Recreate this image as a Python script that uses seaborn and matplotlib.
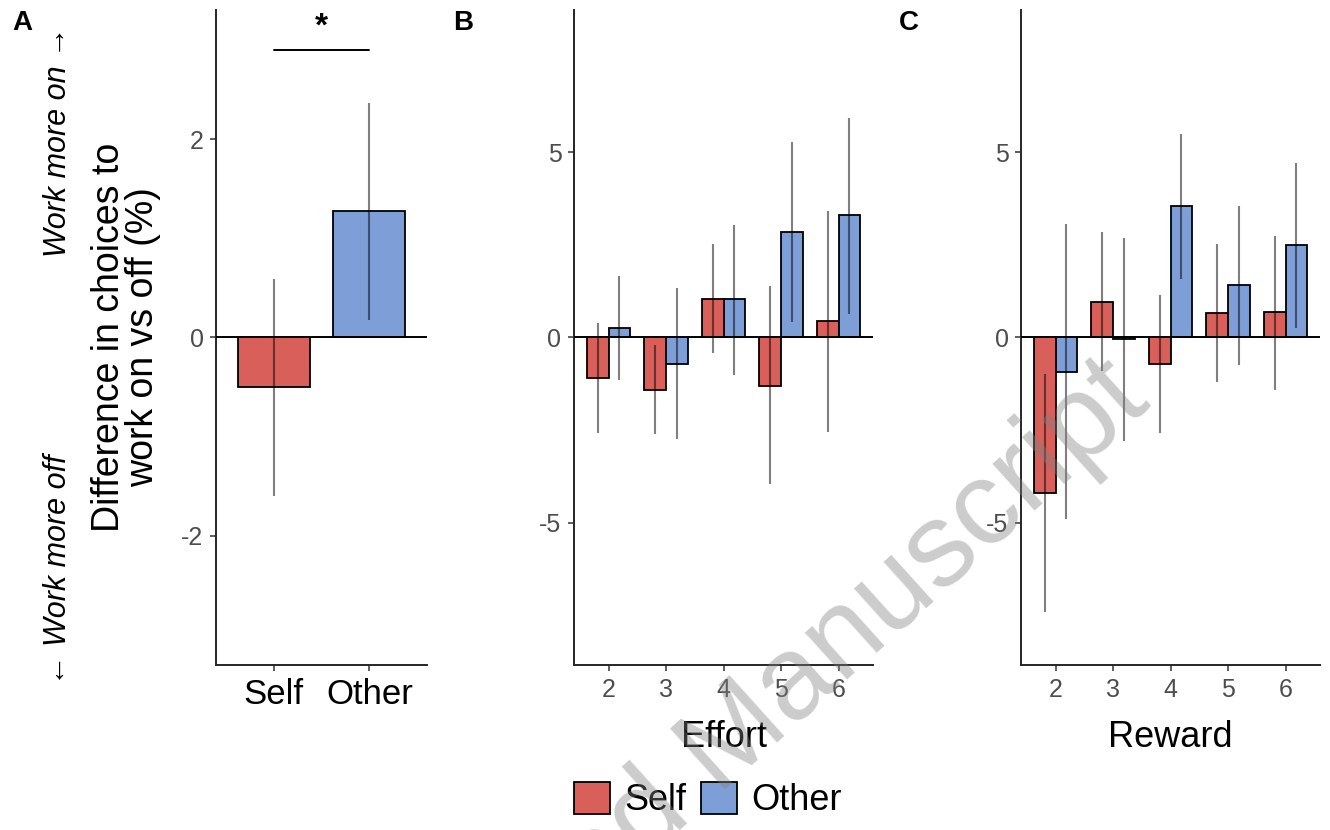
import numpy as np
import pandas as pd
import matplotlib
matplotlib.use("Agg")
import matplotlib.pyplot as plt
from matplotlib.patches import Patch
import seaborn as sns

# -------------------------------
# Data
# -------------------------------
agents = ["Self", "Other"]
agent_colors = {"Self": "#D95F5A", "Other": "#7D9ED7"}

# Panel A: overall difference
overall_mean = [-0.50, 1.27]
overall_lo = [-1.60, 0.18]
overall_hi = [0.59, 2.36]

# Panel B: by effort level
effort_levels = [2, 3, 4, 5, 6]
effort_self = [-1.09, -1.41, 1.05, -1.30, 0.44]
effort_self_lo = [-2.59, -2.62, -0.43, -3.95, -2.55]
effort_self_hi = [0.40, -0.19, 2.52, 1.39, 3.41]
effort_other = [0.25, -0.71, 1.03, 2.84, 3.30]
effort_other_lo = [-1.16, -2.73, -1.02, 0.41, 0.63]
effort_other_hi = [1.66, 1.33, 3.04, 5.29, 5.93]

# Panel C: by reward level
reward_levels = [2, 3, 4, 5, 6]
reward_self = [-4.21, 0.97, -0.71, 0.66, 0.68]
reward_self_lo = [-7.41, -0.91, -2.57, -1.20, -1.41]
reward_self_hi = [-0.98, 2.84, 1.15, 2.52, 2.75]
reward_other = [-0.92, -0.05, 3.55, 1.41, 2.49]
reward_other_lo = [-4.90, -2.81, 1.58, -0.73, 0.26]
reward_other_hi = [3.08, 2.68, 5.51, 3.54, 4.71]

# -------------------------------
# Build long tables
# -------------------------------
df_a = pd.DataFrame({"Agent": agents, "value": overall_mean,
                     "lo": overall_lo, "hi": overall_hi})


def long_table(levels, s, s_lo, s_hi, o, o_lo, o_hi, name):
    d_self = pd.DataFrame({name: levels, "Agent": "Self", "value": s, "lo": s_lo, "hi": s_hi})
    d_other = pd.DataFrame({name: levels, "Agent": "Other", "value": o, "lo": o_lo, "hi": o_hi})
    return pd.concat([d_self, d_other], ignore_index=True)


df_b = long_table(effort_levels, effort_self, effort_self_lo, effort_self_hi,
                  effort_other, effort_other_lo, effort_other_hi, "Effort")
df_c = long_table(reward_levels, reward_self, reward_self_lo, reward_self_hi,
                  reward_other, reward_other_lo, reward_other_hi, "Reward")

# -------------------------------
# Style
# -------------------------------
sns.set_style("ticks")
plt.rcParams["font.family"] = ["Liberation Sans", "DejaVu Sans"]
plt.rcParams["axes.linewidth"] = 1.4
plt.rcParams["axes.unicode_minus"] = False
plt.rcParams["text.color"] = "black"
plt.rcParams["axes.labelcolor"] = "black"

TICK_GRAY = "#4D4D4D"
ERR_KW = dict(color="black", alpha=0.5, lw=1.5, zorder=4)
EDGE_LW = 1.3

fig = plt.figure(figsize=(13.3, 8.3), dpi=100)
ax_a = fig.add_axes([216 / 1330, 165 / 830, 211 / 1330, 655 / 830])
ax_b = fig.add_axes([574 / 1330, 165 / 830, 299 / 1330, 655 / 830])
ax_c = fig.add_axes([1021 / 1330, 165 / 830, 299 / 1330, 655 / 830])


def style_axis(ax):
    sns.despine(ax=ax)
    ax.tick_params(axis="both", length=4, width=1.1, color="#333333",
                   labelsize=18, labelcolor=TICK_GRAY, pad=5)
    ax.axhline(0, color="black", lw=1.4, zorder=5)


# -------------------------------
# Panel A
# -------------------------------
sns.barplot(data=df_a, x="Agent", y="value", hue="Agent", order=agents,
            hue_order=agents, palette=agent_colors, width=0.75, dodge=False,
            errorbar=None, edgecolor="black", linewidth=EDGE_LW,
            legend=False, saturation=1, ax=ax_a)
for bar, (_, row) in zip(ax_a.patches, df_a.iterrows()):
    xc = bar.get_x() + bar.get_width() / 2
    ax_a.vlines(xc, row["lo"], row["hi"], **ERR_KW)
style_axis(ax_a)
ax_a.set_ylim(-3.3, 3.3)
ax_a.set_yticks([-2, 0, 2])
ax_a.set_xlim(-0.6, 1.6)
ax_a.set_xlabel("")
ax_a.set_ylabel("")
ax_a.tick_params(axis="x", labelsize=25, labelcolor="black")

# significance bracket
ax_a.plot([0, 1], [2.9, 2.9], color="black", lw=1.4)
ax_a.text(0.5, 2.97, "*", ha="center", va="bottom", fontsize=24, fontweight="bold")

# y titles
fig.text(126 / 1330, 1 - 337 / 830, "Difference in choices to\nwork on vs off (%)",
         rotation=90, ha="center", va="center", fontsize=27, linespacing=0.95,
         multialignment="center")
fig.text(58 / 1330, 1 - 142 / 830, "Work more on \u2192", rotation=90, ha="center",
         va="center", fontsize=22, style="italic")
fig.text(58 / 1330, 1 - 570 / 830, "\u2190 Work more off", rotation=90, ha="center",
         va="center", fontsize=22, style="italic")

# -------------------------------
# Panels B and C
# -------------------------------
for ax, df, name in [(ax_b, df_b, "Effort"), (ax_c, df_c, "Reward")]:
    sns.barplot(data=df, x=name, y="value", hue="Agent", hue_order=agents,
                palette=agent_colors, width=0.75, errorbar=None,
                edgecolor="black", linewidth=EDGE_LW, saturation=1,
                legend=False, ax=ax)
    for cont, agent in zip(ax.containers, agents):
        sub = df[df["Agent"] == agent].reset_index(drop=True)
        for bar, (_, row) in zip(cont, sub.iterrows()):
            xc = bar.get_x() + bar.get_width() / 2
            ax.vlines(xc, row["lo"], row["hi"], **ERR_KW)
    style_axis(ax)
    ax.set_ylim(-8.85, 8.85)
    ax.set_yticks([-5, 0, 5])
    ax.set_xlim(-0.6, 4.6)
    ax.set_ylabel("")
    ax.set_xlabel(name, fontsize=26, labelpad=13)

# panel letters
for lab, xp in [("A", 22), ("B", 463), ("C", 909)]:
    fig.text(xp / 1330, 1 - 23 / 830, lab, ha="center", va="center",
             fontsize=20, fontweight="bold")

# legend
handles = [Patch(facecolor=agent_colors[a], edgecolor="black", linewidth=EDGE_LW, label=a)
           for a in agents]
fig.legend(handles=handles, loc="center", bbox_to_anchor=(708 / 1330, 1 - 800 / 830),
           ncol=2, frameon=False, fontsize=26, handlelength=1.0, handleheight=1.0,
           handletextpad=0.4, columnspacing=0.4)

# watermark
fig.text(1152 / 1330, 1 - 405 / 830, "Accepted Manuscript", rotation=42,
         rotation_mode="anchor", ha="right", va="baseline", fontsize=86,
         color="gray", alpha=0.4, zorder=20)

fig.savefig("out.png", dpi=100)
